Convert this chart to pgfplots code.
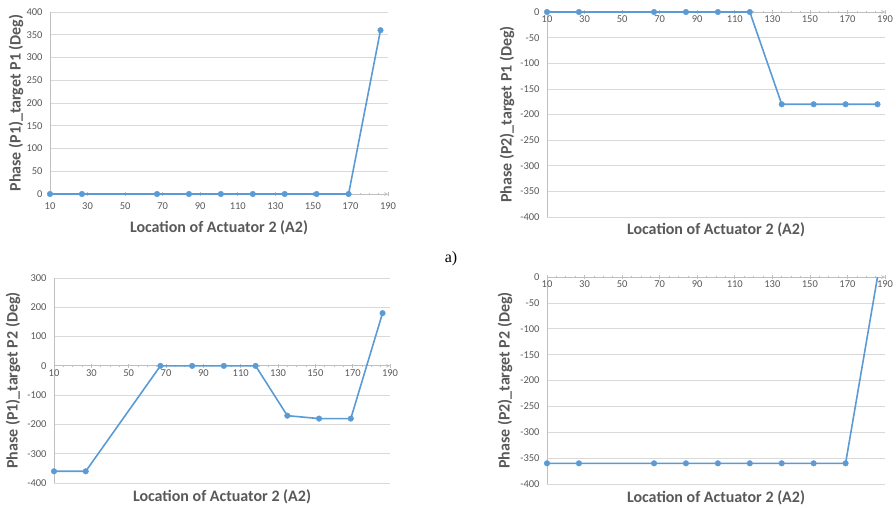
\documentclass[border=0pt]{standalone}
\usepackage{fontspec}
\setmainfont{Carlito}
\newfontfamily\timesf{Liberation Serif}
\usepackage{pgfplots}
\pgfplotsset{compat=1.18}
\definecolor{xlblue}{HTML}{5B9BD5}
\definecolor{txtgray}{HTML}{595959}
\definecolor{gridgray}{HTML}{D9D9D9}
\definecolor{axgray}{HTML}{BFBFBF}
\newcommand{\labfont}{\fontsize{16}{18}\selectfont\bfseries}
\pgfplotsset{
 excel/.style={
  scale only axis, clip=false, enlargelimits=false,
  xmin=10,xmax=190, xtick={10,30,...,190}, minor x tick num=3,
  hide obscured x ticks=false, hide obscured y ticks=false,
  axis y line=left, axis line style={-,draw=axgray,line width=0.75pt},
  ymajorgrids, grid style={draw=gridgray,line width=0.75pt},
  ytick style={draw=none},
  x tick style={draw=axgray,line width=0.6pt},
  major tick length=4pt, minor tick length=2.5pt,
  tick align=outside,
  ticklabel style={font=\fontsize{10.5}{12}\selectfont, text=txtgray},
  /pgf/number format/assume math mode=true,
  xlabel={Location of Actuator 2 (A2)},
 },
 ylab/.style={every axis y label/.style={at={(axis description cs:#1,0.5)},rotate=90,anchor=center,font=\labfont,text=txtgray}},
 xlab/.style={every axis x label/.style={at={(axis description cs:0.5,#1)},anchor=center,font=\labfont,text=txtgray}},
 ser/.style={color=xlblue, line width=1.6pt, mark=*, mark size=2.8pt, mark options={solid, fill=xlblue, draw=xlblue, line width=0.4pt}},
}
\begin{document}
\begin{tikzpicture}
\path[use as bounding box] (0pt,0pt) rectangle (896pt,-507pt);
% top left
\begin{axis}[excel, at={(50pt,-194pt)}, anchor=south west, width=338pt, height=182pt,
  ymin=0, ymax=400, ytick={0,50,...,400}, axis x line=bottom,
  xticklabel style={yshift=-3pt},
  ylabel={Phase (P1)\_target P1 (Deg)}, ylab=-0.1006, xlab=-0.1868]
\addplot[ser] coordinates {(10,0) (27,0) (67,0) (84,0) (101,0) (118,0) (135,0) (152,0) (169,0) (186,360)};
\end{axis}
% top right
\begin{axis}[excel, at={(547pt,-217pt)}, anchor=south west, width=338pt, height=205pt,
  ymin=-400, ymax=0, ytick={-400,-350,...,0}, axis x line=middle,
  xticklabel style={yshift=1.5pt},
  ylabel={Phase (P2)\_target P1 (Deg)}, ylab=-0.118, xlab=-0.0634]
\addplot[ser] coordinates {(10,0) (27,0) (67,0) (84,0) (101,0) (118,0) (135,-180) (152,-180) (169,-180) (186,-180)};
\end{axis}
% bottom left
\begin{axis}[excel, at={(54pt,-483pt)}, anchor=south west, width=336pt, height=205pt,
  ymin=-400, ymax=300, ytick={-400,-300,...,300}, axis x line=middle,
  xticklabel style={yshift=1.5pt},
  ylabel={Phase (P1)\_target P2 (Deg)}, ylab=-0.122, xlab=-0.0683]
\addplot[ser] coordinates {(10,-360) (27,-360) (67,0) (84,0) (101,0) (118,0) (135,-170) (152,-180) (169,-180) (186,180)};
\end{axis}
% bottom right
\begin{axis}[excel, at={(547pt,-484pt)}, anchor=south west, width=338pt, height=207pt,
  ymin=-400, ymax=0, ytick={-400,-350,...,0}, axis x line=middle,
  xticklabel style={yshift=1.5pt},
  ylabel={Phase (P2)\_target P2 (Deg)}, ylab=-0.124, xlab=-0.0676]
\addplot[ser, mark indices={1,...,9}] coordinates {(10,-360) (27,-360) (67,-360) (84,-360) (101,-360) (118,-360) (135,-360) (152,-360) (169,-360) (186,0)};
\end{axis}
\node[font=\timesf\fontsize{16}{18}\selectfont, anchor=center] at (451pt,-259pt) {a)};
\end{tikzpicture}
\end{document}
